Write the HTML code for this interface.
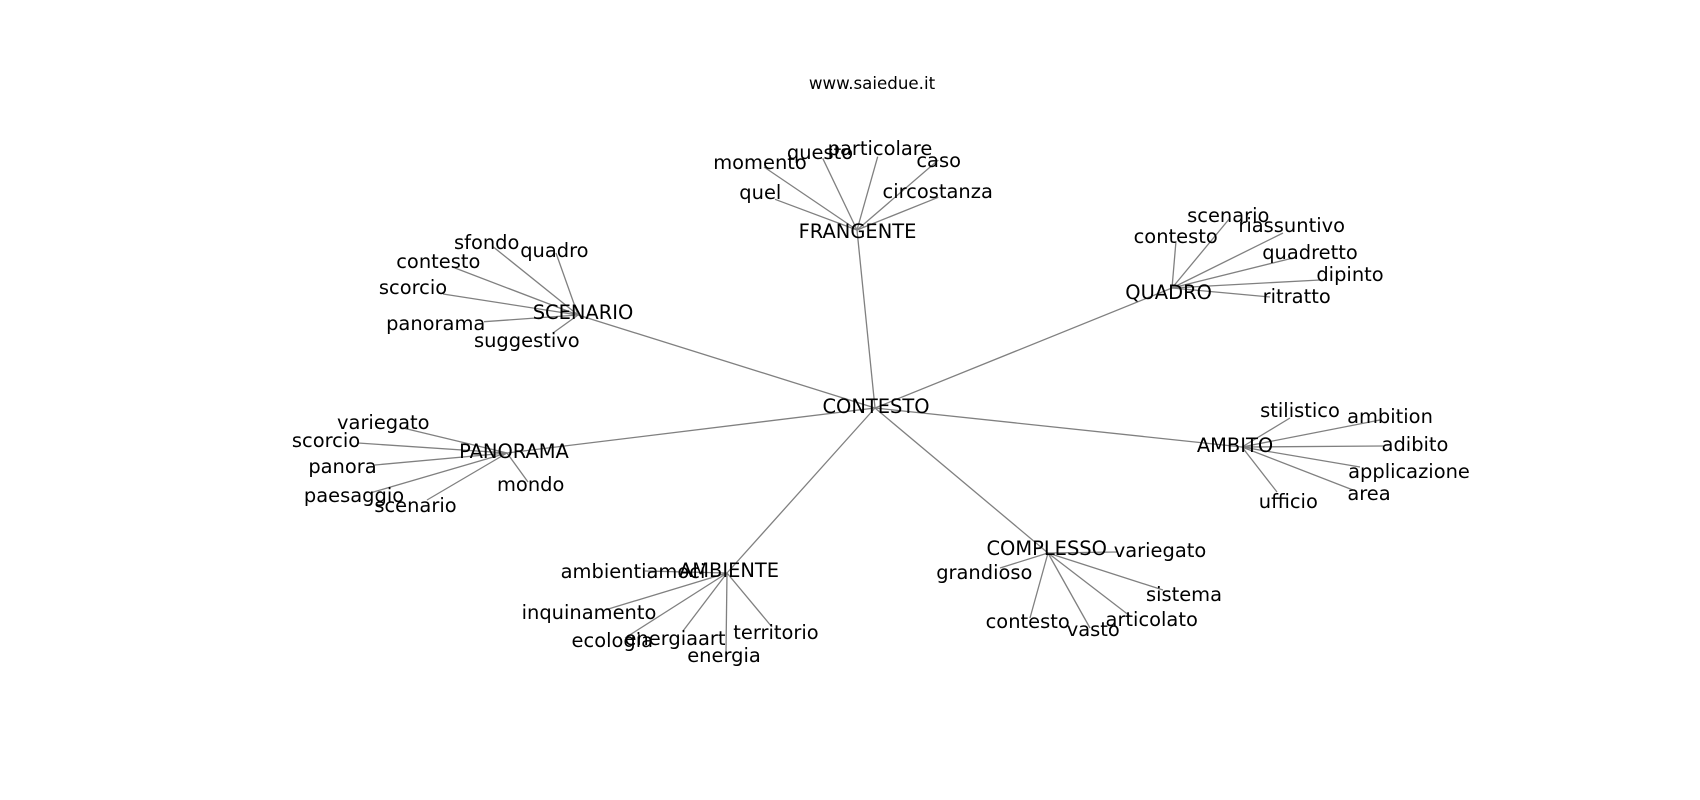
<!DOCTYPE html>
<html>
<head>
<meta charset="utf-8">
<style>
  html, body { margin: 0; padding: 0; background: #ffffff; }
  svg { display: block; }
  text { font-family: "DejaVu Sans", "Liberation Sans", sans-serif; fill: #000; }
  .lbl { font-size: 19.44px; text-anchor: middle; }
  .ttl { font-size: 16.67px; text-anchor: middle; }
  line { stroke: #808080; stroke-width: 1.3; }
</style>
</head>
<body>
<svg width="1700" height="800" viewBox="0 0 1700 800" xmlns="http://www.w3.org/2000/svg">
  <rect x="0" y="0" width="1700" height="800" fill="#ffffff"/>
  <text class="ttl" x="872" y="89">www.saiedue.it</text>

  <!-- main edges -->
  <line x1="875" y1="408" x2="857" y2="230"/>
  <line x1="875" y1="408" x2="578" y2="315"/>
  <line x1="875" y1="408" x2="1172" y2="288"/>
  <line x1="875" y1="408" x2="507" y2="453"/>
  <line x1="875" y1="408" x2="1242" y2="447"/>
  <line x1="875" y1="408" x2="727" y2="573"/>
  <line x1="875" y1="408" x2="1048" y2="553"/>

  <!-- FRANGENTE -->
  <line x1="857" y1="230" x2="764" y2="167"/>
  <line x1="857" y1="230" x2="822.7" y2="158.3"/>
  <line x1="857" y1="230" x2="877.7" y2="156.7"/>
  <line x1="857" y1="230" x2="938.3" y2="160"/>
  <line x1="857" y1="230" x2="775" y2="199.3"/>
  <line x1="857" y1="230" x2="938.3" y2="197.3"/>

  <!-- SCENARIO -->
  <line x1="578" y1="315" x2="493" y2="246.7"/>
  <line x1="578" y1="315" x2="556" y2="253"/>
  <line x1="578" y1="315" x2="455" y2="268"/>
  <line x1="578" y1="315" x2="443" y2="294"/>
  <line x1="578" y1="315" x2="484" y2="321.7"/>
  <line x1="578" y1="315" x2="553" y2="333"/>

  <!-- QUADRO -->
  <line x1="1172" y1="288" x2="1230" y2="218"/>
  <line x1="1172" y1="288" x2="1176" y2="241"/>
  <line x1="1172" y1="288" x2="1283" y2="233"/>
  <line x1="1172" y1="288" x2="1293" y2="258"/>
  <line x1="1172" y1="288" x2="1320" y2="280"/>
  <line x1="1172" y1="288" x2="1270" y2="297"/>

  <!-- PANORAMA -->
  <line x1="507" y1="453" x2="403" y2="428"/>
  <line x1="507" y1="453" x2="358" y2="443"/>
  <line x1="507" y1="453" x2="375" y2="465"/>
  <line x1="507" y1="453" x2="370" y2="493"/>
  <line x1="507" y1="453" x2="427" y2="500"/>
  <line x1="507" y1="453" x2="528" y2="482"/>

  <!-- AMBITO -->
  <line x1="1242" y1="447" x2="1290" y2="418"/>
  <line x1="1242" y1="447" x2="1380" y2="420"/>
  <line x1="1242" y1="447" x2="1383" y2="446"/>
  <line x1="1242" y1="447" x2="1360" y2="467"/>
  <line x1="1242" y1="447" x2="1353" y2="490"/>
  <line x1="1242" y1="447" x2="1277" y2="492"/>

  <!-- AMBIENTE -->
  <line x1="727" y1="573" x2="645" y2="571"/>
  <line x1="727" y1="573" x2="605" y2="610"/>
  <line x1="727" y1="573" x2="625" y2="638"/>
  <line x1="727" y1="573" x2="683" y2="631"/>
  <line x1="727" y1="573" x2="726" y2="652"/>
  <line x1="727" y1="573" x2="772" y2="627"/>

  <!-- COMPLESSO -->
  <line x1="1048" y1="553" x2="1117" y2="552"/>
  <line x1="1048" y1="553" x2="1000" y2="568"/>
  <line x1="1048" y1="553" x2="1163" y2="590"/>
  <line x1="1048" y1="553" x2="1130" y2="616"/>
  <line x1="1048" y1="553" x2="1090" y2="628"/>
  <line x1="1048" y1="553" x2="1030" y2="618"/>

  <!-- labels -->
  <text class="lbl" x="876" y="413">CONTESTO</text>

  <text class="lbl" x="857.5" y="238">FRANGENTE</text>
  <text class="lbl" x="760" y="169">momento</text>
  <text class="lbl" x="820" y="159">questo</text>
  <text class="lbl" x="880" y="155">particolare</text>
  <text class="lbl" x="938.7" y="167">caso</text>
  <text class="lbl" x="760.3" y="199">quel</text>
  <text class="lbl" x="937.7" y="198">circostanza</text>

  <text class="lbl" x="583" y="319">SCENARIO</text>
  <text class="lbl" x="486.7" y="249">sfondo</text>
  <text class="lbl" x="554.4" y="257">quadro</text>
  <text class="lbl" x="438.3" y="268">contesto</text>
  <text class="lbl" x="413" y="294">scorcio</text>
  <text class="lbl" x="435.7" y="330">panorama</text>
  <text class="lbl" x="526.8" y="347">suggestivo</text>

  <text class="lbl" x="1168.6" y="299">QUADRO</text>
  <text class="lbl" x="1228.3" y="222">scenario</text>
  <text class="lbl" x="1175.7" y="243">contesto</text>
  <text class="lbl" x="1291.7" y="232">riassuntivo</text>
  <text class="lbl" x="1310" y="259">quadretto</text>
  <text class="lbl" x="1350" y="281">dipinto</text>
  <text class="lbl" x="1296.7" y="303">ritratto</text>

  <text class="lbl" x="514" y="458">PANORAMA</text>
  <text class="lbl" x="383.3" y="429">variegato</text>
  <text class="lbl" x="326" y="447">scorcio</text>
  <text class="lbl" x="342.5" y="473">panora</text>
  <text class="lbl" x="354" y="502">paesaggio</text>
  <text class="lbl" x="415.5" y="512">scenario</text>
  <text class="lbl" x="530.7" y="491">mondo</text>

  <text class="lbl" x="1235" y="452">AMBITO</text>
  <text class="lbl" x="1300" y="417">stilistico</text>
  <text class="lbl" x="1390" y="423">ambition</text>
  <text class="lbl" x="1415" y="451">adibito</text>
  <text class="lbl" x="1409" y="478">applicazione</text>
  <text class="lbl" x="1369" y="500">area</text>
  <text class="lbl" x="1288.3" y="508">ufficio</text>

  <text class="lbl" x="729" y="577">AMBIENTE</text>
  <text class="lbl" x="633" y="578">ambientiamoci</text>
  <text class="lbl" x="589" y="619">inquinamento</text>
  <text class="lbl" x="612.3" y="647">ecologia</text>
  <text class="lbl" x="675" y="645">energiaart</text>
  <text class="lbl" x="724" y="662">energia</text>
  <text class="lbl" x="776" y="639">territorio</text>

  <text class="lbl" x="1046.7" y="555">COMPLESSO</text>
  <text class="lbl" x="1160" y="557">variegato</text>
  <text class="lbl" x="984.3" y="579">grandioso</text>
  <text class="lbl" x="1184" y="601">sistema</text>
  <text class="lbl" x="1151.7" y="626">articolato</text>
  <text class="lbl" x="1093.3" y="636">vasto</text>
  <text class="lbl" x="1027.7" y="628">contesto</text>
</svg>
</body>
</html>
